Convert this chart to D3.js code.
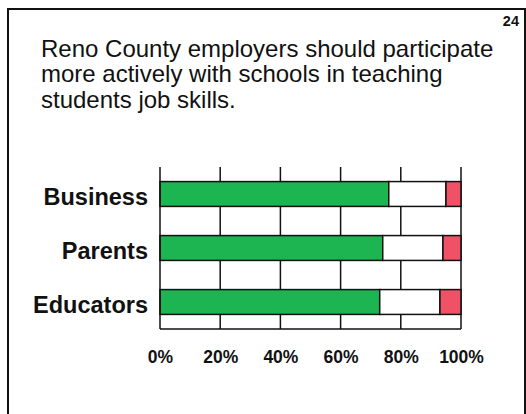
<!DOCTYPE html>
<html>
<head>
<meta charset="utf-8">
<script src="https://cdn.jsdelivr.net/npm/d3@7"></script>
<style>
  html, body { margin: 0; padding: 0; background: #fff; }
  svg { display: block; }
  text { font-family: "Liberation Sans", Arial, sans-serif; fill: #111; }
</style>
</head>
<body>
<svg id="chart" width="526" height="414"></svg>
<script>
// Survey responses (percent) per respondent group
const groups = ["Business", "Parents", "Educators"];
const agree = [76, 74, 73];
const neutral = [19, 20, 20];
const disagree = [5, 6, 7];
const tickValues = [0, 20, 40, 60, 80, 100];
const titleLines = [
  "Reno County employers should participate",
  "more actively with schools in teaching",
  "students job skills."
];
const pageNumber = "24";

const colors = { agree: "#1db552", neutral: "#ffffff", disagree: "#ef5166" };

const svg = d3.select("#chart");

// slide frame
svg.append("path")
  .attr("d", "M8,414 V9 H525 V414")
  .attr("fill", "none")
  .attr("stroke", "#111")
  .attr("stroke-width", 2);

svg.append("text")
  .attr("x", 519).attr("y", 26)
  .attr("text-anchor", "end")
  .attr("font-size", 14.5).attr("font-weight", "bold")
  .text(pageNumber);

svg.append("g").selectAll("text")
  .data(titleLines)
  .join("text")
  .attr("x", 41)
  .attr("y", (d, i) => 57 + i * 25.3)
  .attr("font-size", 24)
  .text(d => d);

const x = d3.scaleLinear().domain([0, 100]).range([160, 461]);
const y = d3.scaleBand().domain(groups).range([167, 329])
  .paddingInner(0.54).paddingOuter(0.27);

// vertical gridlines
svg.append("g").selectAll("line")
  .data(tickValues.slice(1))
  .join("line")
  .attr("x1", d => x(d)).attr("x2", d => x(d))
  .attr("y1", 167).attr("y2", 329)
  .attr("stroke", "#111").attr("stroke-width", 1.5);

// stacked bars
const rows = groups.map((g, i) => ({
  group: g,
  parts: [
    { key: "agree", start: 0, value: agree[i] },
    { key: "neutral", start: agree[i], value: neutral[i] },
    { key: "disagree", start: agree[i] + neutral[i], value: disagree[i] }
  ]
}));

svg.append("g").selectAll("g")
  .data(rows)
  .join("g")
  .attr("transform", d => `translate(0,${y(d.group)})`)
  .selectAll("rect")
  .data(d => d.parts)
  .join("rect")
  .attr("x", d => x(d.start))
  .attr("width", d => x(d.start + d.value) - x(d.start))
  .attr("y", 0)
  .attr("height", y.bandwidth())
  .attr("fill", d => colors[d.key])
  .attr("stroke", "#111")
  .attr("stroke-width", 1.5);

// axes lines
svg.append("line")
  .attr("x1", x(0)).attr("x2", x(0)).attr("y1", 167).attr("y2", 329)
  .attr("stroke", "#111").attr("stroke-width", 1.5);
svg.append("line")
  .attr("x1", x(0)).attr("x2", x(100)).attr("y1", 329).attr("y2", 329)
  .attr("stroke", "#111").attr("stroke-width", 1.5);

// x tick labels
const xAxis = d3.axisBottom(x).tickValues(tickValues).tickFormat(d => d + "%").tickSize(0).tickPadding(0);
const xg = svg.append("g").attr("transform", "translate(0,363)").call(xAxis);
xg.select(".domain").remove();
xg.selectAll("text")
  .attr("dy", 0).attr("y", 0)
  .attr("font-size", 17.5).attr("font-weight", "bold")
  .attr("font-family", "Liberation Sans, Arial, sans-serif")
  .attr("fill", "#111");

// category labels
const yAxis = d3.axisLeft(y).tickSize(0).tickPadding(0);
const yg = svg.append("g").attr("transform", "translate(148,0)").call(yAxis);
yg.select(".domain").remove();
yg.selectAll("text")
  .attr("dy", "0.46em")
  .attr("font-size", 23.5).attr("font-weight", "bold")
  .attr("font-family", "Liberation Sans, Arial, sans-serif")
  .attr("fill", "#111");
</script>
</body>
</html>
